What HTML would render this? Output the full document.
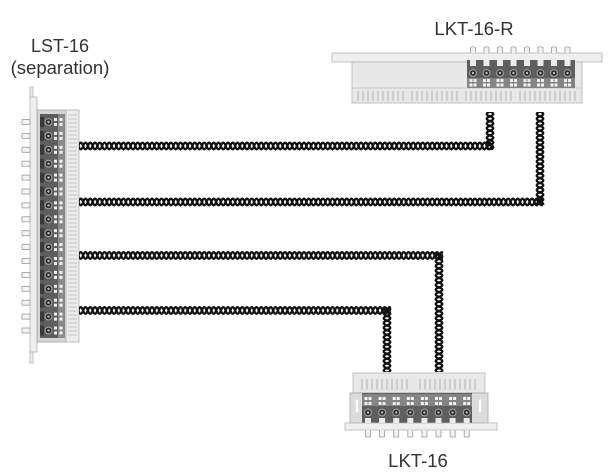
<!DOCTYPE html>
<html><head><meta charset="utf-8">
<style>
html,body{margin:0;padding:0;background:#fff;}
svg{display:block;}
text{font-family:"Liberation Sans",Arial,sans-serif;fill:#333;}
</style></head>
<body>
<svg width="613" height="476" viewBox="0 0 613 476" xmlns="http://www.w3.org/2000/svg">
<defs>
  <pattern id="ph" patternUnits="userSpaceOnUse" x="0" y="-5" width="9.5" height="10">
    <path d="M0,1.7 C2.4,1.7 2.35,8.3 4.75,8.3 C7.15,8.3 7.1,1.7 9.5,1.7 M0,8.3 C2.4,8.3 2.35,1.7 4.75,1.7 C7.15,1.7 7.1,8.3 9.5,8.3" fill="none" stroke="#111" stroke-width="2.3"/>
  </pattern>
  <pattern id="pv" patternUnits="userSpaceOnUse" x="-5" y="0" width="10" height="9.5">
    <path d="M1.7,0 C1.7,2.4 8.3,2.35 8.3,4.75 C8.3,7.15 1.7,7.1 1.7,9.5 M8.3,0 C8.3,2.4 1.7,2.35 1.7,4.75 C1.7,7.15 8.3,7.1 8.3,9.5" fill="none" stroke="#111" stroke-width="2.3"/>
  </pattern>
  <g id="lp">
    <rect x="22" y="-2.5" width="8" height="5" fill="#f4f4f4" stroke="#9a9a9a" stroke-width="0.8"/>
    <rect x="40" y="-5" width="4" height="10" fill="#3a3a3a"/>
    <circle cx="48.5" cy="0" r="3.4" fill="#2a2a2a" stroke="#a8a8a8" stroke-width="1"/>
    <circle cx="48.5" cy="0" r="1.2" fill="#bbb"/>
    <rect x="54" y="-4" width="3" height="3" fill="#eee"/>
    <rect x="54" y="1" width="3" height="3" fill="#eee"/>
    <rect x="59.5" y="-4" width="3" height="3" fill="#f4f4f4"/>
    <rect x="59.5" y="1" width="3" height="3" fill="#f4f4f4"/>
  </g>
  <g id="rp">
    <path d="M-2.5,53 L-2.5,47.5 Q0,46 2.5,47.5 L2.5,53" fill="#f2f2f2" stroke="#9a9a9a" stroke-width="0.8"/>
    <rect x="-3" y="60" width="6" height="6" fill="#eaeaea"/>
    <circle cx="0" cy="73" r="3.4" fill="#2a2a2a" stroke="#a8a8a8" stroke-width="1"/>
    <circle cx="0" cy="73" r="1.2" fill="#bbb"/>
    <rect x="-3.5" y="79" width="3" height="3" fill="#eee"/>
    <rect x="0.5" y="79" width="3" height="3" fill="#eee"/>
    <rect x="-3.5" y="83.5" width="3" height="3" fill="#f4f4f4"/>
    <rect x="0.5" y="83.5" width="3" height="3" fill="#f4f4f4"/>
  </g>
  <g id="bp">
    <rect x="-3.5" y="397" width="3" height="3" fill="#f4f4f4"/>
    <rect x="0.5" y="397" width="3" height="3" fill="#f4f4f4"/>
    <rect x="-3.5" y="402" width="3" height="3" fill="#eee"/>
    <rect x="0.5" y="402" width="3" height="3" fill="#eee"/>
    <circle cx="0" cy="412.5" r="3.4" fill="#2a2a2a" stroke="#a8a8a8" stroke-width="1"/>
    <circle cx="0" cy="412.5" r="1.2" fill="#bbb"/>
    <rect x="-3" y="418" width="6" height="5" fill="#eaeaea"/>
    <path d="M-2.5,430 L-2.5,437 L2.5,437 L2.5,430" fill="#f2f2f2" stroke="#9a9a9a" stroke-width="0.8"/>
  </g>
</defs>

<text x="60" y="52" font-size="18" text-anchor="middle">LST-16</text>
<text x="60" y="74" font-size="18.5" text-anchor="middle">(separation)</text>
<text x="474" y="35" font-size="18.5" text-anchor="middle">LKT-16-R</text>
<text x="418" y="467" font-size="18.5" text-anchor="middle">LKT-16</text>

<!-- LST-16 -->
<rect x="30" y="87" width="3" height="12" fill="#eee" stroke="#b5b5b5" stroke-width="0.8"/>
<rect x="30" y="350" width="3" height="13" fill="#eee" stroke="#b5b5b5" stroke-width="0.8"/>
<rect x="30" y="97" width="7" height="255" fill="#efefef" stroke="#b5b5b5" stroke-width="0.8"/>
<rect x="37" y="110" width="29" height="232" fill="#d6d6d6" stroke="#a5a5a5" stroke-width="0.8"/>
<rect x="40" y="114" width="18" height="224" fill="#5e5e5e"/>
<rect x="58" y="114" width="7" height="224" fill="#8a8a8a"/>
<rect x="66" y="110" width="13" height="232" fill="#ececec" stroke="#b0b0b0" stroke-width="0.8"/>
<g stroke="#b8b8b8" stroke-width="0.8">
  <path d="M68,115H77M68,119H77M68,123H77M68,127H77M68,131H77M68,135H77M68,139H77M68,143H77M68,147H77M68,151H77M68,155H77M68,159H77M68,163H77M68,167H77M68,171H77M68,175H77M68,179H77M68,183H77M68,187H77M68,191H77M68,195H77M68,199H77M68,203H77M68,207H77M68,211H77M68,215H77M68,219H77M68,223H77M68,227H77M68,231H77M68,235H77M68,239H77M68,243H77M68,247H77M68,251H77M68,255H77M68,259H77M68,263H77M68,267H77M68,271H77M68,275H77M68,279H77M68,283H77M68,287H77M68,291H77M68,295H77M68,299H77M68,303H77M68,307H77M68,311H77M68,315H77M68,319H77M68,323H77M68,327H77M68,331H77M68,335H77"/>
</g>
<use href="#lp" y="122"/><use href="#lp" y="135.9"/><use href="#lp" y="149.8"/><use href="#lp" y="163.7"/>
<use href="#lp" y="177.6"/><use href="#lp" y="191.5"/><use href="#lp" y="205.4"/><use href="#lp" y="219.3"/>
<use href="#lp" y="233.2"/><use href="#lp" y="247.1"/><use href="#lp" y="261"/><use href="#lp" y="274.9"/>
<use href="#lp" y="288.8"/><use href="#lp" y="302.7"/><use href="#lp" y="316.6"/><use href="#lp" y="330.5"/>

<!-- LKT-16-R -->
<rect x="332" y="53" width="270" height="9" fill="#efefef" stroke="#b5b5b5" stroke-width="0.8"/>
<rect x="352" y="62" width="230" height="41" fill="#e8e8e8" stroke="#b5b5b5" stroke-width="0.8"/>
<line x1="352" y1="88" x2="582" y2="88" stroke="#c4c4c4" stroke-width="0.8"/>
<g stroke="#b0b0b0" stroke-width="0.9">
  <path d="M358,91V101M363,91V101M368,91V101M373,91V101M378,91V101M383,91V101M388,91V101M393,91V101M398,91V101M403,91V101M412,91V101M417,91V101M422,91V101M427,91V101M432,91V101M437,91V101M442,91V101M447,91V101M452,91V101M457,91V101M466,91V101M471,91V101M476,91V101M481,91V101M486,91V101M491,91V101M496,91V101M501,91V101M506,91V101M511,91V101M520,91V101M525,91V101M530,91V101M535,91V101M540,91V101M545,91V101M550,91V101M555,91V101M560,91V101M565,91V101M570,91V101M575,91V101"/>
</g>
<rect x="467" y="60" width="108" height="28" fill="#5e5e5e"/>
<rect x="467" y="78" width="108" height="10" fill="#858585"/>
<use href="#rp" x="473"/><use href="#rp" x="486.5"/><use href="#rp" x="500"/><use href="#rp" x="513.5"/>
<use href="#rp" x="527"/><use href="#rp" x="540.5"/><use href="#rp" x="554"/><use href="#rp" x="567.5"/>

<!-- LKT-16 -->
<rect x="353" y="373" width="132" height="20" fill="#e8e8e8" stroke="#b5b5b5" stroke-width="0.8"/>
<g stroke="#b0b0b0" stroke-width="0.9">
  <path d="M362,379V390M367,379V390M372,379V390M377,379V390M382,379V390M387,379V390M392,379V390M397,379V390M402,379V390M407,379V390M420,379V390M425,379V390M430,379V390M435,379V390M440,379V390M445,379V390M450,379V390M455,379V390M460,379V390M465,379V390M470,379V390M475,379V390"/>
</g>
<rect x="350" y="393" width="138" height="30" fill="#dcdcdc" stroke="#a8a8a8" stroke-width="0.8"/>
<rect x="362" y="393" width="110" height="30" fill="#5e5e5e"/>
<rect x="362" y="394" width="110" height="12" fill="#858585"/>
<path d="M355,402 l2,-3 l2,3 h-1 v8 h1 l-2,3 l-2,-3 h1 v-8z" fill="#fff"/>
<path d="M478,402 l2,-3 l2,3 h-1 v8 h1 l-2,3 l-2,-3 h1 v-8z" fill="#fff"/>
<rect x="345" y="423" width="152" height="7" fill="#efefef" stroke="#b5b5b5" stroke-width="0.8"/>
<use href="#bp" x="368"/><use href="#bp" x="382.1"/><use href="#bp" x="396.2"/><use href="#bp" x="410.3"/>
<use href="#bp" x="424.4"/><use href="#bp" x="438.5"/><use href="#bp" x="452.6"/><use href="#bp" x="466.7"/>

<!-- Cables -->
<g transform="translate(0,146)"><rect x="79" y="-5" width="414" height="10" fill="url(#ph)"/></g>
<g transform="translate(490,0)"><rect x="-5" y="112" width="10" height="38" fill="url(#pv)"/></g>

<g transform="translate(0,202)"><rect x="79" y="-5" width="464" height="10" fill="url(#ph)"/></g>
<g transform="translate(540,0)"><rect x="-5" y="112" width="10" height="93" fill="url(#pv)"/></g>

<g transform="translate(0,255.5)"><rect x="79" y="-5" width="364" height="10" fill="url(#ph)"/></g>
<g transform="translate(439,0)"><rect x="-5" y="252" width="10" height="120" fill="url(#pv)"/></g>

<g transform="translate(0,310.5)"><rect x="79" y="-5" width="312" height="10" fill="url(#ph)"/></g>
<g transform="translate(387,0)"><rect x="-5" y="308" width="10" height="64" fill="url(#pv)"/></g>
</svg>
</body></html>
